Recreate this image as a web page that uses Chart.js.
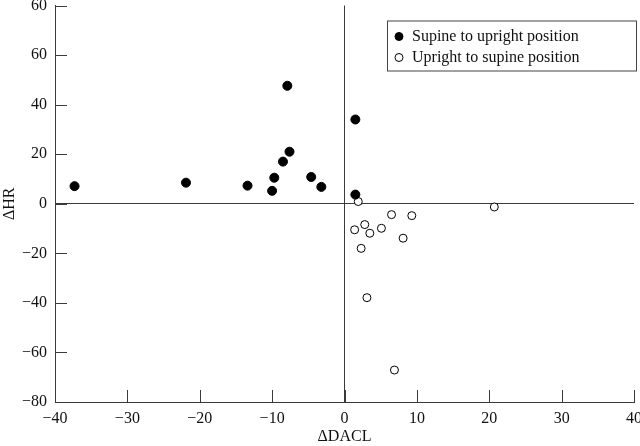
<!DOCTYPE html>
<html>
<head>
<meta charset="utf-8">
<script src="https://cdn.jsdelivr.net/npm/chart.js@4.4.0/dist/chart.umd.min.js"></script>
<style>
  body { margin: 0; background: #fff; }
  #wrap { width: 640px; height: 446px; }
</style>
</head>
<body>
<div id="wrap"><canvas id="scatterChart"></canvas></div>
<script>
// series values
const supineX = [-37.3, -21.9, -13.4, -10.0, -9.7, -8.5, -7.6, -7.9, -4.6, -3.2, 1.5, 1.5];
const supineY = [7.1, 8.5, 7.3, 5.2, 10.5, 17.0, 21.0, 47.6, 10.8, 6.8, 34.0, 3.7];
const uprightX = [1.9, 6.5, 9.3, 20.7, 1.4, 2.8, 3.5, 5.1, 8.1, 2.3, 3.1, 6.9];
const uprightY = [0.9, -4.4, -4.8, -1.3, -10.5, -8.4, -11.9, -9.9, -13.9, -18.0, -37.9, -67.1];

const seriesNames = ["Supine to upright position", "Upright to supine position"];
const xTickLabels = ["\u221240", "\u221230", "\u221220", "\u221210", "0", "10", "20", "30", "40"];
const yTickLabels = ["\u221280", "\u221260", "\u221240", "\u221220", "0", "20", "40", "60", "60"];

const FONT = "'Liberation Serif', 'Times New Roman', serif";
const AXIS = "#3a3a3a";

function toPoints(xs, ys) {
  return xs.map(function (x, i) { return { x: x, y: ys[i] }; });
}

// short tick marks pointing into the plot
const innerTicks = {
  id: "innerTicks",
  afterDraw(chart) {
    const ctx = chart.ctx;
    const area = chart.chartArea;
    const xs = chart.scales.x, ys = chart.scales.y;
    ctx.save();
    ctx.strokeStyle = AXIS;
    ctx.lineWidth = 1;
    ctx.beginPath();
    ys.ticks.forEach(function (t) {
      const py = Math.round(ys.getPixelForValue(t.value)) + 0.5;
      ctx.moveTo(area.left, py);
      ctx.lineTo(area.left + 12, py);
    });
    xs.ticks.forEach(function (t) {
      const px = Math.round(xs.getPixelForValue(t.value)) + 0.5;
      ctx.moveTo(px, area.bottom);
      ctx.lineTo(px, area.bottom - 12);
    });
    ctx.stroke();
    ctx.restore();
  }
};

// boxed legend in the upper right
const boxLegend = {
  id: "boxLegend",
  afterDraw(chart) {
    const ctx = chart.ctx;
    const area = chart.chartArea;
    const left = area.left + 332, top = area.top + 15;
    const w = 249, h = 50;
    ctx.save();
    ctx.strokeStyle = "#444";
    ctx.lineWidth = 1;
    ctx.strokeRect(left + 0.5, top + 0.5, w, h);
    ctx.font = "16px " + FONT;
    ctx.textBaseline = "middle";
    chart.data.datasets.forEach(function (ds, i) {
      const cy = top + 16 + i * 21;
      ctx.beginPath();
      ctx.arc(left + 12, cy, 4, 0, Math.PI * 2);
      ctx.fillStyle = ds.backgroundColor;
      ctx.fill();
      ctx.strokeStyle = "#000";
      ctx.stroke();
      ctx.fillStyle = "#111";
      ctx.fillText(ds.label, left + 25, cy);
    });
    ctx.restore();
  }
};

const CHART = document.getElementById("scatterChart");
var scatterChart = new Chart(CHART, {
  type: "scatter",
  data: {
    datasets: [{
      label: seriesNames[0],
      data: toPoints(supineX, supineY),
      backgroundColor: "#000",
      borderColor: "#000",
      borderWidth: 1,
      pointRadius: 4.5
    }, {
      label: seriesNames[1],
      data: toPoints(uprightX, uprightY),
      backgroundColor: "#fff",
      borderColor: "#000",
      borderWidth: 1,
      pointRadius: 4
    }]
  },
  options: {
    responsive: true,
    maintainAspectRatio: false,
    animation: false,
    layout: { padding: { top: 3, right: 6, left: 0, bottom: 0 } },
    plugins: {
      legend: { display: false },
      tooltip: { enabled: false }
    },
    scales: {
      x: {
        type: "linear",
        min: -40,
        max: 40,
        ticks: {
          stepSize: 10,
          padding: 7,
          color: "#111",
          font: { family: FONT, size: 16 },
          callback: function (v, i) { return xTickLabels[i]; }
        },
        grid: {
          drawTicks: false,
          color: function (c) { return c.tick && c.tick.value === 0 ? AXIS : "rgba(0,0,0,0)"; }
        },
        border: { display: true, color: AXIS },
        title: {
          display: true,
          text: "\u0394DACL",
          color: "#111",
          font: { family: FONT, size: 16 },
          padding: { top: 0, bottom: 0 }
        },
        afterFit: function (s) { s.height = 44; s.paddingLeft = 0; s.paddingRight = 0; }
      },
      y: {
        type: "linear",
        min: -80,
        max: 80,
        ticks: {
          stepSize: 20,
          padding: 8,
          color: "#111",
          font: { family: FONT, size: 16 },
          callback: function (v, i) { return yTickLabels[i]; }
        },
        grid: {
          drawTicks: false,
          color: function (c) { return c.tick && c.tick.value === 0 ? AXIS : "rgba(0,0,0,0)"; }
        },
        border: { display: true, color: AXIS },
        title: {
          display: true,
          text: "\u0394HR",
          color: "#111",
          font: { family: FONT, size: 16 },
          padding: { top: 0, bottom: 0 }
        },
        afterFit: function (s) { s.width = 55; s.paddingTop = 0; s.paddingBottom = 0; }
      }
    }
  },
  plugins: [innerTicks, boxLegend]
});
</script>
</body>
</html>
